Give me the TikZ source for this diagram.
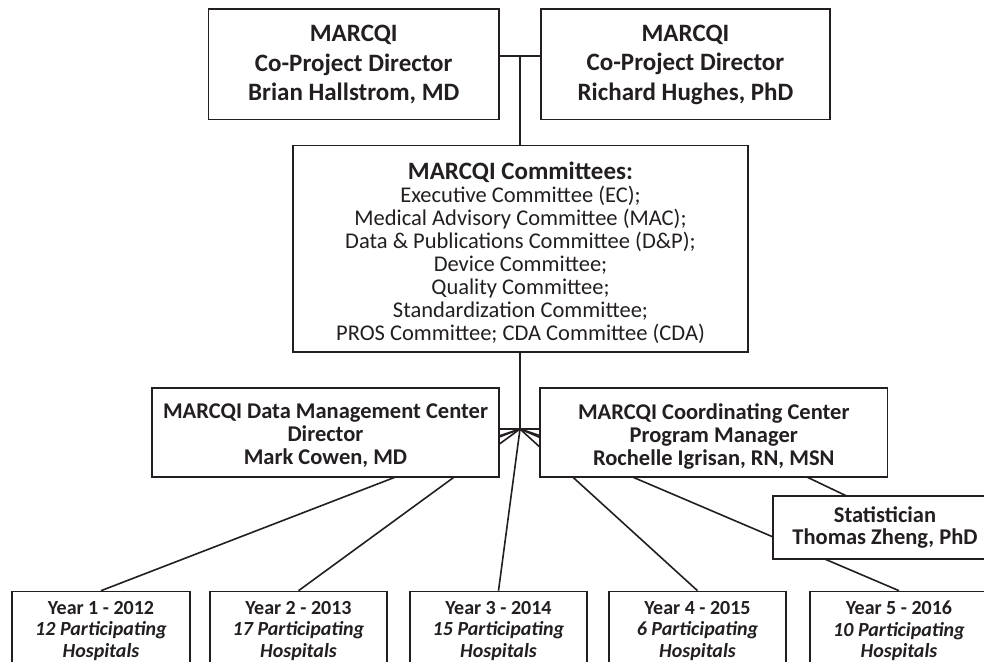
\documentclass[tikz,border=0pt]{standalone}
\usepackage{fontspec}
\setmainfont{Carlito}
\usetikzlibrary{backgrounds}
\definecolor{ink}{HTML}{231F20}
\begin{document}
\begin{tikzpicture}[x=1pt,y=-1pt,
  box/.style={draw=ink, line width=1.6pt, fill=white, inner sep=0pt},
  txt/.style={inner sep=0pt, align=center, text=ink},
  topbox/.style={box, minimum height=110.5pt},
  toptxt/.style={txt, font=\fontsize{25}{29.5}\selectfont\bfseries},
  midbox/.style={box, minimum height=88.5pt},
  midtxt/.style={txt, font=\fontsize{22.5}{23}\selectfont\bfseries},
  yearbox/.style={box, minimum width=177.5pt, minimum height=73pt},
  yeartxt/.style={txt, font=\fontsize{20}{21.5}\selectfont\bfseries},
  conn/.style={draw=ink, line width=1.6pt},
]
\useasboundingbox (0,0) rectangle (984,661);
\clip (0,0) rectangle (984,661);

\node[topbox, minimum width=290.5pt] (tl) at (353.75,64.25) {};
\node[toptxt] (tlt) at (353.75,64.5) {MARCQI\\Co-Project Director\\Brian Hallstrom, MD};
\node[topbox, minimum width=289pt] (tr) at (685.5,64.25) {};
\node[toptxt] (trt) at (685.5,64.5) {MARCQI\\Co-Project Director\\Richard Hughes, PhD};

\node[box, minimum width=455pt, minimum height=206.5pt] (com) at (520.5,248.75) {};
\node[txt, font=\fontsize{22.5}{23}\selectfont] (comt) at (520.5,253)
  {{\fontsize{25}{23}\selectfont\bfseries MARCQI Committees:}\\
   Executive Committee (EC);\\
   Medical Advisory Committee (MAC);\\
   Data \& Publications Committee (D\&P);\\
   Device Committee;\\
   Quality Committee;\\
   Standardization Committee;\\
   PROS Committee; CDA Committee (CDA)};

\node[midbox, minimum width=347pt] (dmc) at (325.5,432.5) {};
\node[midtxt] (dmct) at (325.5,436) {MARCQI Data Management Center\\Director\\Mark Cowen, MD};
\node[midbox, minimum width=347.5pt] (cc) at (713.75,432.5) {};
\node[midtxt] (cct) at (713.75,436) {MARCQI Coordinating Center\\Program Manager\\Rochelle Igrisan, RN, MSN};
\node[box, minimum width=224pt, minimum height=63pt] (stat) at (885,527.5) {};
\node[txt, font=\fontsize{22.5}{22}\selectfont\bfseries] (statt) at (885,527) {Statistician\\Thomas Zheng, PhD};

\node[yearbox] (y1) at (101,628) {};
\node[yearbox] (y2) at (298.5,628) {};
\node[yearbox] (y3) at (498.5,628) {};
\node[yearbox] (y4) at (697.5,628) {};
\node[yearbox] (y5) at (899,628) {};
\node[yeartxt] (y1t) at (101,631) {Year 1 - 2012\\\itshape 12 Participating\\\itshape Hospitals};
\node[yeartxt] (y2t) at (298.5,631) {Year 2 - 2013\\\itshape 17 Participating\\\itshape Hospitals};
\node[yeartxt] (y3t) at (498.5,631) {Year 3 - 2014\\\itshape 15 Participating\\\itshape Hospitals};
\node[yeartxt] (y4t) at (697.5,631) {Year 4 - 2015\\\itshape 6 Participating\\\itshape Hospitals};
\node[yeartxt] (y5t) at (899,631) {Year 5 - 2016\\\itshape 10 Participating\\\itshape Hospitals};

\coordinate (T) at (520,56);
\coordinate (J) at (520,429);
\coordinate (fl) at (420,462);
\coordinate (fr) at (620,462);
\coordinate (s1) at (855,500);

\begin{pgfonlayer}{background}
  \draw[conn] (tl.east |- T) -- (tr.west |- T);
  \draw[conn] (T) -- (T |- com.north);
  \draw[conn] (T |- com.south) -- (J);
  \draw[conn] (J) -- (J -| dmc.east);
  \draw[conn] (J) -- (J -| cc.west);
  \draw[conn] (J) -- (fl);
  \draw[conn] (J) -- (fr);
  \draw[conn] (J) -- (y1.north);
  \draw[conn] (J) -- (y2.north);
  \draw[conn] (J) -- (y3.north);
  \draw[conn] (J) -- (y4.north);
  \draw[conn] (J) -- (y5.north);
  \draw[conn] (cc.center) -- (s1);
\end{pgfonlayer}
\end{tikzpicture}
\end{document}
